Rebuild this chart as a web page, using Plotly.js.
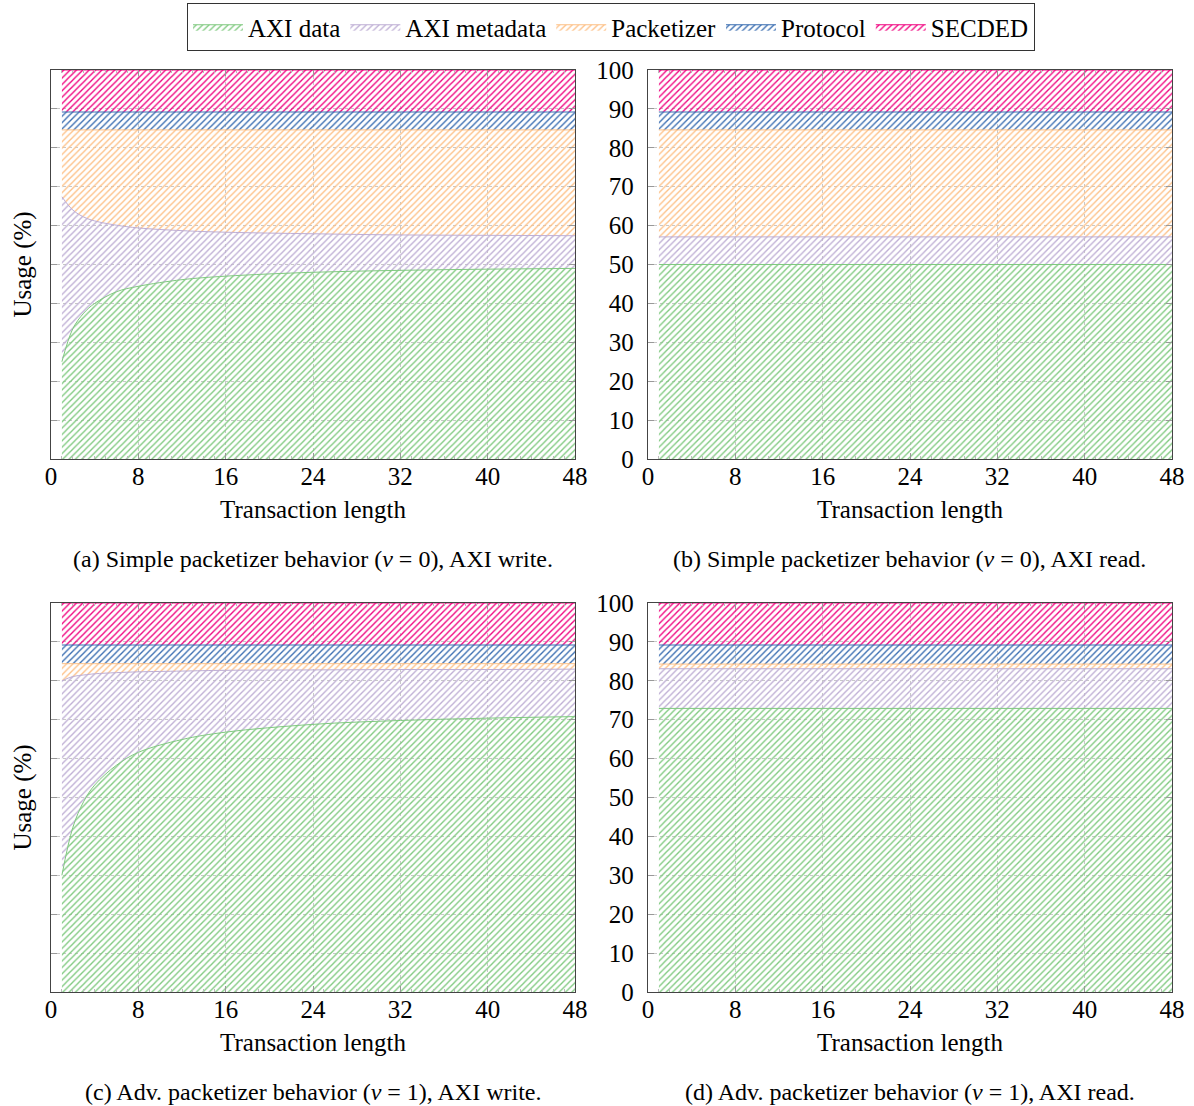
<!DOCTYPE html>
<html>
<head>
<meta charset="utf-8">
<script src="https://cdn.plot.ly/plotly-3.0.1.min.js"></script>
<style>html,body{margin:0;padding:0;background:#fff;}</style>
</head>
<body>
<div id="chart" style="width:1194px;height:1106px;"></div>
<script>
// ---- data ----
const seriesNames = ["AXI data", "AXI metadata", "Packetizer", "Protocol", "SECDED"];
const seriesColors = ["#7fc97f", "#beaed4", "#fdc086", "#386cb0", "#f0027f"];
const txLen = [1, 2, 3, 4, 6, 8, 12, 16, 24, 32, 40, 48];

// (a) simple packetizer, AXI write  (component shares, %)
const aData   = [25.0, 33.5, 37.5, 40.0, 43.0, 44.4, 46.1, 47.0, 48.0, 48.5, 48.8, 49.0];
const aMeta   = [42.4, 30.5, 24.7, 21.2, 17.1, 15.0, 12.6, 11.3, 9.9, 9.1, 8.7, 8.4];
const aPacket = [17.2, 20.6, 22.4, 23.4, 24.5, 25.2, 25.9, 26.3, 26.7, 27.0, 27.1, 27.2];
const aProto  = [4.6, 4.6, 4.6, 4.6, 4.6, 4.6, 4.6, 4.6, 4.6, 4.6, 4.6, 4.6];
const aSecded = [10.8, 10.8, 10.8, 10.8, 10.8, 10.8, 10.8, 10.8, 10.8, 10.8, 10.8, 10.8];

// (b) simple packetizer, AXI read
const bData   = [50.0, 50.0, 50.0, 50.0, 50.0, 50.0, 50.0, 50.0, 50.0, 50.0, 50.0, 50.0];
const bMeta   = [7.1, 7.1, 7.1, 7.1, 7.1, 7.1, 7.1, 7.1, 7.1, 7.1, 7.1, 7.1];
const bPacket = [27.5, 27.5, 27.5, 27.5, 27.5, 27.5, 27.5, 27.5, 27.5, 27.5, 27.5, 27.5];
const bProto  = [4.6, 4.6, 4.6, 4.6, 4.6, 4.6, 4.6, 4.6, 4.6, 4.6, 4.6, 4.6];
const bSecded = [10.8, 10.8, 10.8, 10.8, 10.8, 10.8, 10.8, 10.8, 10.8, 10.8, 10.8, 10.8];

// (c) advanced packetizer, AXI write
const cData   = [30.0, 42.3, 49.0, 53.2, 58.3, 61.6, 64.9, 66.8, 68.8, 69.8, 70.4, 70.8];
const cMeta   = [50.0, 38.8, 32.5, 28.6, 23.8, 20.7, 17.6, 15.9, 14.0, 13.1, 12.5, 12.2];
const cPacket = [4.4, 3.3, 2.9, 2.6, 2.3, 2.1, 1.9, 1.7, 1.6, 1.5, 1.5, 1.4];
const cProto  = [4.8, 4.8, 4.8, 4.8, 4.8, 4.8, 4.8, 4.8, 4.8, 4.8, 4.8, 4.8];
const cSecded = [10.8, 10.8, 10.8, 10.8, 10.8, 10.8, 10.8, 10.8, 10.8, 10.8, 10.8, 10.8];

// (d) advanced packetizer, AXI read
const dData   = [72.9, 72.9, 72.9, 72.9, 72.9, 72.9, 72.9, 72.9, 72.9, 72.9, 72.9, 72.9];
const dMeta   = [10.2, 10.2, 10.2, 10.2, 10.2, 10.2, 10.2, 10.2, 10.2, 10.2, 10.2, 10.2];
const dPacket = [1.2, 1.2, 1.2, 1.2, 1.2, 1.2, 1.2, 1.2, 1.2, 1.2, 1.2, 1.2];
const dProto  = [4.9, 4.9, 4.9, 4.9, 4.9, 4.9, 4.9, 4.9, 4.9, 4.9, 4.9, 4.9];
const dSecded = [10.8, 10.8, 10.8, 10.8, 10.8, 10.8, 10.8, 10.8, 10.8, 10.8, 10.8, 10.8];

const xTicks = [0, 8, 16, 24, 32, 40, 48];
const yTicks = [0, 10, 20, 30, 40, 50, 60, 70, 80, 90, 100];
const captions = [
  "(a) Simple packetizer behavior (<i>v</i> = 0), AXI write.",
  "(b) Simple packetizer behavior (<i>v</i> = 0), AXI read.",
  "(c) Adv. packetizer behavior (<i>v</i> = 1), AXI write.",
  "(d) Adv. packetizer behavior (<i>v</i> = 1), AXI read."
];

// ---- build ----
const FONT = "\"Liberation Serif\", \"Times New Roman\", serif";
const panels = [
  {series: [aData, aMeta, aPacket, aProto, aSecded], xa: "x",  ya: "y"},
  {series: [bData, bMeta, bPacket, bProto, bSecded], xa: "x2", ya: "y2"},
  {series: [cData, cMeta, cPacket, cProto, cSecded], xa: "x3", ya: "y3"},
  {series: [dData, dMeta, dPacket, dProto, dSecded], xa: "x4", ya: "y4"}
];
const traces = [];
panels.forEach((p, pi) => {
  p.series.forEach((vals, si) => {
    const smooth = (pi === 0 || pi === 2);
    traces.push({
      type: "scatter", mode: "lines",
      x: txLen, y: vals,
      xaxis: p.xa, yaxis: p.ya,
      stackgroup: "g" + pi,
      name: seriesNames[si],
      legendgroup: seriesNames[si],
      showlegend: pi === 0,
      line: {color: seriesColors[si], width: 1, shape: smooth ? "spline" : "linear", smoothing: 1},
      fillcolor: "rgba(0,0,0,0)",
      fillpattern: {shape: "/", fgcolor: seriesColors[si], bgcolor: "rgba(0,0,0,0)",
                    size: 4.5, solidity: 0.3, fillmode: "replace"},
      hoverinfo: "skip"
    });
  });
});

const W = 1194, H = 1106;
const xdomL = [51 / W, 575 / W], xdomR = [648 / W, 1172 / W];
const ydomT = [1 - 459 / H, 1 - 70 / H], ydomB = [1 - 992 / H, 1 - 603 / H];

function xAxis(dom, anchor) {
  return {
    domain: dom, anchor: anchor, range: [0, 48],
    tickmode: "array", tickvals: xTicks, ticktext: xTicks.map(String),
    ticks: "inside", ticklen: 6, tickcolor: "#999", mirror: "allticks",
    minor: {ticks: "inside", ticklen: 3, dtick: 1, tickcolor: "#bbb", showgrid: false},
    showline: true, linecolor: "#444", linewidth: 1.2,
    showgrid: true, gridcolor: "#c8c8c8", griddash: "dot", gridwidth: 1,
    zeroline: false,
    ticklabelstandoff: -5,
    tickfont: {family: FONT, size: 25, color: "#000"},
    title: {text: "Transaction length", font: {family: FONT, size: 25, color: "#000"}, standoff: 11}
  };
}
function yAxis(dom, anchor, labels) {
  const ax = {
    domain: dom, anchor: anchor, range: [0, 100],
    tickmode: "array", tickvals: yTicks, ticktext: yTicks.map(String),
    showticklabels: labels,
    ticks: "inside", ticklen: 6, tickcolor: "#999", mirror: "allticks",
    showline: true, linecolor: "#444", linewidth: 1.2,
    showgrid: true, gridcolor: "#c8c8c8", griddash: "dot", gridwidth: 1,
    zeroline: false,
    ticklabelstandoff: 8,
    tickfont: {family: FONT, size: 25, color: "#000"}
  };
  if (!labels) {
    ax.title = {text: "Usage (%)", font: {family: FONT, size: 25, color: "#000"}, standoff: 11};
  }
  return ax;
}

const capY = [1 - 559 / H, 1 - 559 / H, 1 - 1092 / H, 1 - 1092 / H];
const capX = [(xdomL[0] + xdomL[1]) / 2, (xdomR[0] + xdomR[1]) / 2, (xdomL[0] + xdomL[1]) / 2, (xdomR[0] + xdomR[1]) / 2];

const layout = {
  width: W, height: H,
  margin: {l: 0, r: 0, t: 0, b: 0},
  paper_bgcolor: "#fff", plot_bgcolor: "#fff",
  font: {family: FONT, size: 25, color: "#000"},
  showlegend: true,
  legend: {
    orientation: "h", x: 611 / W, xanchor: "center", y: 1 - 3 / H, yanchor: "top",
    bordercolor: "#333", borderwidth: 1, bgcolor: "#fff",
    font: {family: FONT, size: 25, color: "#000"},
    traceorder: "normal", itemwidth: 50
  },
  xaxis: xAxis(xdomL, "y"),
  yaxis: yAxis(ydomT, "x", false),
  xaxis2: xAxis(xdomR, "y2"),
  yaxis2: yAxis(ydomT, "x2", true),
  xaxis3: xAxis(xdomL, "y3"),
  yaxis3: yAxis(ydomB, "x3", false),
  xaxis4: xAxis(xdomR, "y4"),
  yaxis4: yAxis(ydomB, "x4", true),
  annotations: captions.map((t, i) => ({
    text: t, xref: "paper", yref: "paper", x: capX[i], y: capY[i],
    xanchor: "center", yanchor: "middle", showarrow: false,
    font: {family: FONT, size: 24, color: "#000"}
  }))
};

Plotly.newPlot("chart", traces, layout, {staticPlot: true, displayModeBar: false});
</script>
</body>
</html>
